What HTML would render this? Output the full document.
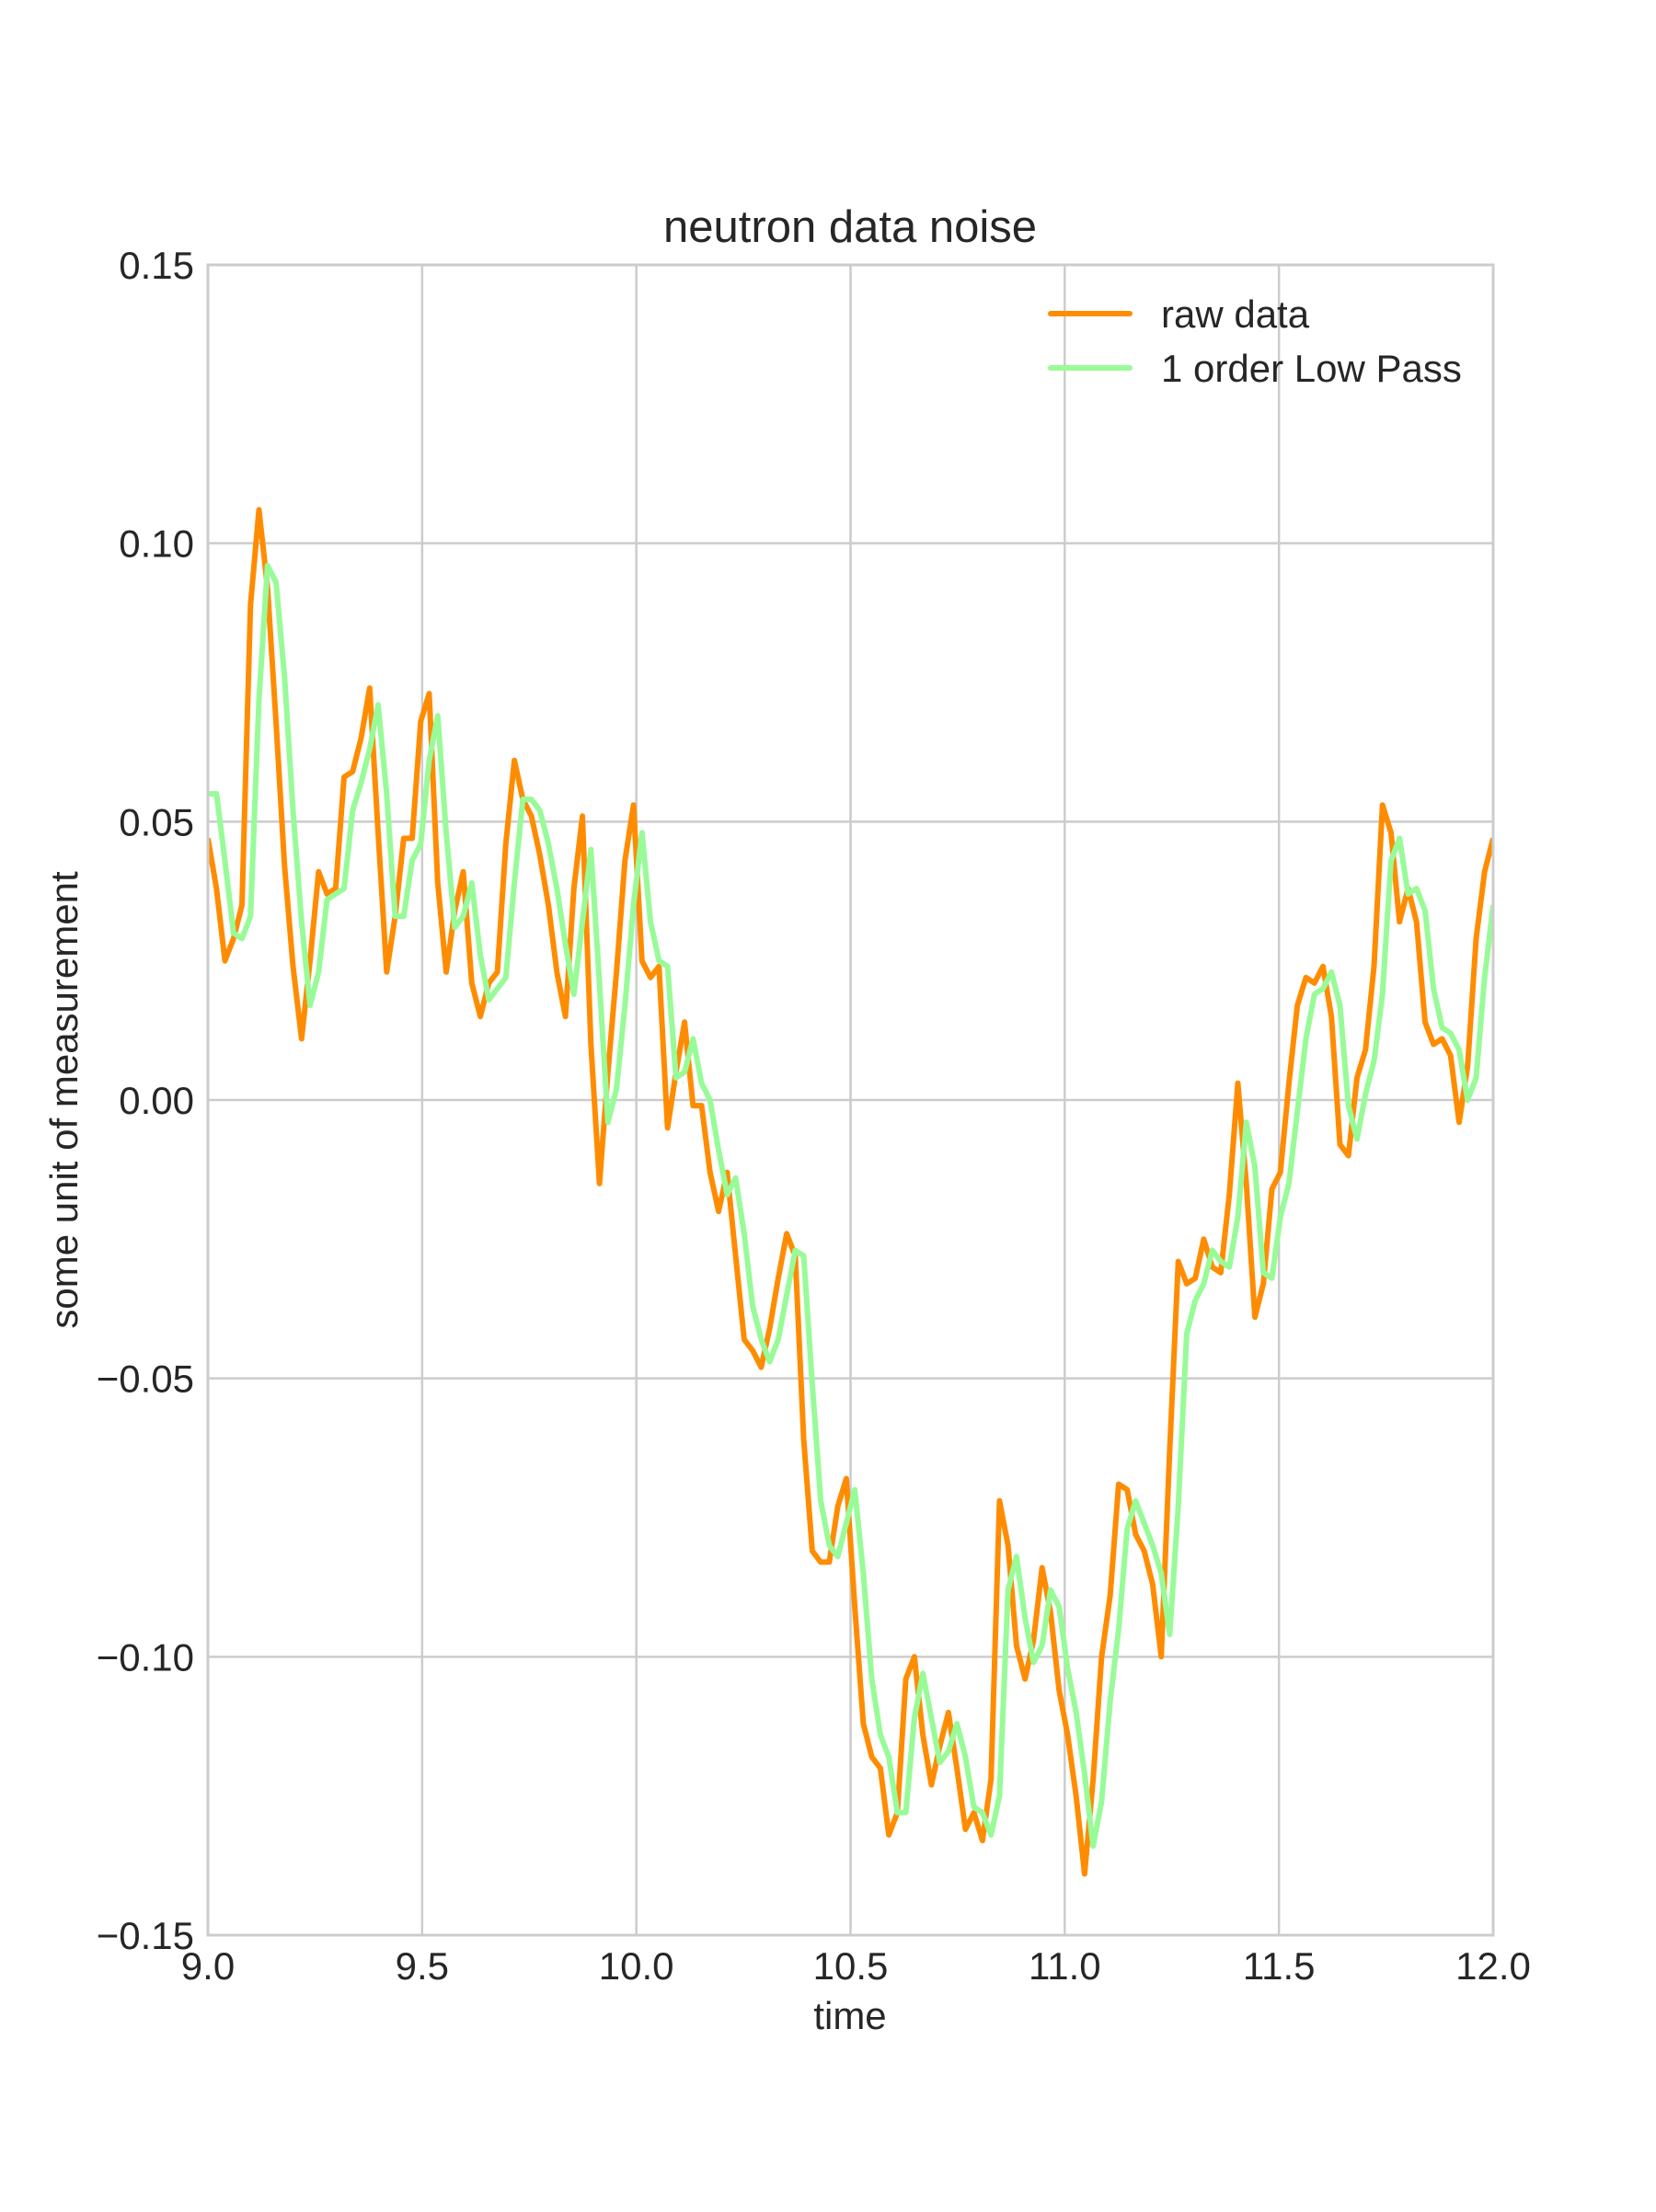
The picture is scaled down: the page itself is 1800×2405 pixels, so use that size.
<!DOCTYPE html>
<html><head><meta charset="utf-8"><style>
html,body{margin:0;padding:0;background:#fff;}
svg text{font-family:"Liberation Sans",Arial,sans-serif;fill:#262626;}
</style></head><body>
<svg id="chart" width="1800" height="2400" viewBox="0 0 1800 2400" xmlns="http://www.w3.org/2000/svg">
<rect x="0" y="0" width="1800" height="2400" fill="#fff"/>
<g id="grid"></g>
<g id="series"></g>
<rect x="226" y="288" width="1397" height="1816" fill="none" stroke="#cccccc" stroke-width="3"/>
<g id="ticks"></g>
<text x="924" y="263" font-size="49" text-anchor="middle">neutron data noise</text>
<text x="924" y="2206" font-size="42" text-anchor="middle">time</text>
<text x="0" y="0" font-size="42" text-anchor="middle" transform="translate(84,1196) rotate(-90)">some unit of measurement</text>
<g>
<line x1="1142" y1="341" x2="1228" y2="341" stroke="#ff8c00" stroke-width="6" stroke-linecap="round"/>
<text x="1262" y="356" font-size="42">raw data</text>
<line x1="1142" y1="400" x2="1228" y2="400" stroke="#98fb98" stroke-width="6" stroke-linecap="round"/>
<text x="1262" y="415" font-size="42">1 order Low Pass</text>
</g>
</svg>
<script>
const rawData = [0.047,0.038,0.025,0.029,0.035,0.089,0.106,0.092,0.068,0.042,0.024,0.011,0.025,0.041,0.037,0.038,0.058,0.059,0.065,0.074,0.048,0.023,0.033,0.047,0.047,0.068,0.073,0.039,0.023,0.034,0.041,0.021,0.015,0.021,0.023,0.046,0.061,0.054,0.051,0.044,0.035,0.023,0.015,0.038,0.051,0.010,-0.015,0.005,0.023,0.043,0.053,0.025,0.022,0.024,-0.005,0.005,0.014,-0.001,-0.001,-0.013,-0.020,-0.013,-0.028,-0.043,-0.045,-0.048,-0.041,-0.032,-0.024,-0.028,-0.061,-0.081,-0.083,-0.083,-0.073,-0.068,-0.091,-0.112,-0.118,-0.120,-0.132,-0.128,-0.104,-0.100,-0.114,-0.123,-0.116,-0.110,-0.120,-0.131,-0.128,-0.133,-0.122,-0.072,-0.080,-0.098,-0.104,-0.097,-0.084,-0.092,-0.106,-0.114,-0.125,-0.139,-0.122,-0.100,-0.089,-0.069,-0.070,-0.078,-0.081,-0.087,-0.100,-0.063,-0.029,-0.033,-0.032,-0.025,-0.030,-0.031,-0.017,0.003,-0.015,-0.039,-0.033,-0.016,-0.013,0.003,0.017,0.022,0.021,0.024,0.015,-0.008,-0.010,0.004,0.009,0.024,0.053,0.048,0.032,0.038,0.032,0.014,0.010,0.011,0.008,-0.004,0.006,0.029,0.041,0.047];
const lowPass = [0.055,0.055,0.043,0.030,0.029,0.033,0.072,0.096,0.093,0.076,0.052,0.032,0.017,0.023,0.036,0.037,0.038,0.052,0.057,0.063,0.071,0.055,0.033,0.033,0.043,0.046,0.061,0.069,0.048,0.031,0.033,0.039,0.026,0.018,0.020,0.022,0.039,0.054,0.054,0.052,0.046,0.038,0.028,0.019,0.032,0.045,0.021,-0.004,0.002,0.017,0.035,0.048,0.032,0.025,0.024,0.004,0.005,0.011,0.003,0.000,-0.009,-0.017,-0.014,-0.024,-0.037,-0.043,-0.047,-0.043,-0.035,-0.027,-0.028,-0.051,-0.072,-0.080,-0.082,-0.076,-0.070,-0.085,-0.104,-0.114,-0.118,-0.128,-0.128,-0.111,-0.103,-0.111,-0.119,-0.117,-0.112,-0.118,-0.127,-0.128,-0.132,-0.125,-0.088,-0.082,-0.093,-0.101,-0.098,-0.088,-0.091,-0.102,-0.110,-0.121,-0.134,-0.126,-0.108,-0.095,-0.077,-0.072,-0.076,-0.080,-0.085,-0.096,-0.073,-0.042,-0.036,-0.033,-0.027,-0.029,-0.030,-0.021,-0.004,-0.012,-0.031,-0.032,-0.021,-0.015,-0.002,0.011,0.019,0.020,0.023,0.017,-0.001,-0.007,0.001,0.007,0.019,0.043,0.047,0.037,0.038,0.034,0.020,0.013,0.012,0.009,0.000,0.004,0.022,0.035];
const xTicks = [9.0, 9.5, 10.0, 10.5, 11.0, 11.5, 12.0];
const xTickLabels = ["9.0","9.5","10.0","10.5","11.0","11.5","12.0"];
const yTicks = [0.15, 0.10, 0.05, 0.00, -0.05, -0.10, -0.15];
const yTickLabels = ["0.15","0.10","0.05","0.00","\u22120.05","\u22120.10","\u22120.15"];
const tStart = 9.0, tEnd = 12.0;

const X0=226, X1=1623, Y0=288, Y1=2104;
function sx(t){return X0+(t-9)/(12-9)*(X1-X0);}
function sy(v){return Y0+(0.15-v)/(0.30)*(Y1-Y0);}
function timeAt(i,n){return tStart+(tEnd-tStart)*i/(n-1);}
const NS="http://www.w3.org/2000/svg";
const grid=document.getElementById('grid');
const ticks=document.getElementById('ticks');
const series=document.getElementById('series');
xTicks.forEach((t,i)=>{
  const l=document.createElementNS(NS,'line');
  l.setAttribute('x1',sx(t));l.setAttribute('x2',sx(t));l.setAttribute('y1',Y0);l.setAttribute('y2',Y1);
  l.setAttribute('stroke','#cccccc');l.setAttribute('stroke-width','2.5');
  
  
  grid.appendChild(l);
  const tx=document.createElementNS(NS,'text');
  tx.setAttribute('x',sx(t));tx.setAttribute('y',2152);tx.setAttribute('font-size','42');tx.setAttribute('text-anchor','middle');
  tx.textContent=xTickLabels[i];
  
  
  ticks.appendChild(tx);
});
yTicks.forEach((v,i)=>{
  const l=document.createElementNS(NS,'line');
  l.setAttribute('x1',X0);l.setAttribute('x2',X1);l.setAttribute('y1',sy(v));l.setAttribute('y2',sy(v));
  l.setAttribute('stroke','#cccccc');l.setAttribute('stroke-width','2.5');
  
  
  grid.appendChild(l);
  const tx=document.createElementNS(NS,'text');
  tx.setAttribute('x',211);tx.setAttribute('y',sy(v)+15);tx.setAttribute('font-size','42');tx.setAttribute('text-anchor','end');
  tx.textContent=yTickLabels[i];
  
  
  ticks.appendChild(tx);
});
function drawLine(vals,color,name){
  const p=document.createElementNS(NS,'polyline');
  p.setAttribute('points',vals.map((v,i)=>sx(timeAt(i,vals.length)).toFixed(1)+','+sy(v).toFixed(1)).join(' '));
  p.setAttribute('fill','none');p.setAttribute('stroke',color);p.setAttribute('stroke-width','6');
  p.setAttribute('stroke-linejoin','round');
  p.setAttribute('clip-path','url(#clip)');
  
  
  series.appendChild(p);
}
const defs=document.createElementNS(NS,'defs');
defs.innerHTML='<clipPath id="clip"><rect x="226" y="288" width="1397" height="1816"/></clipPath>';
document.getElementById('chart').insertBefore(defs,grid);
drawLine(rawData,'#ff8c00','raw-data-line');
drawLine(lowPass,'#98fb98','low-pass-line');
</script>
</body></html>
